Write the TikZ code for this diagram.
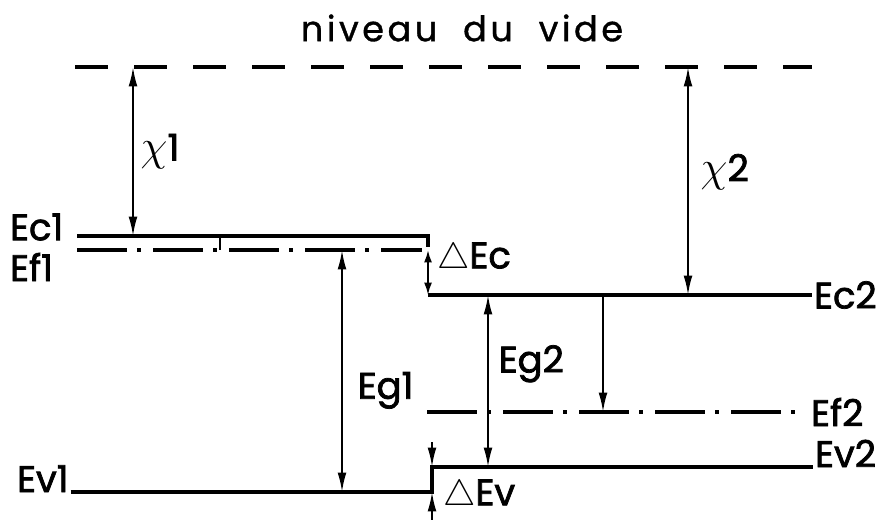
\documentclass[tikz,border=0pt]{standalone}
\usepackage{fontspec}
\setmainfont{Poppins}
\newfontfamily\labfont[FakeBold=2]{Poppins}
\newfontfamily\titfont[FakeBold=1, LetterSpace=10]{Poppins}
\usetikzlibrary{arrows.meta, positioning}

\begin{document}
\begin{tikzpicture}[
  level/.style = {line width=2pt},
  fermi/.style = {line width=2pt, dash pattern=on 1.0cm off 0.2cm on 0.08cm off 0.24cm},
  vac/.style   = {line width=2pt, dash pattern=on 0.66cm off 0.52cm},
  gap/.style   = {{Latex[length=11pt,width=5pt]}-{Latex[length=11pt,width=5pt]}, line width=1.1pt},
  sgap/.style  = {{Latex[length=7pt,width=4.5pt]}-{Latex[length=7pt,width=4.5pt]}, line width=1.1pt},
  down/.style  = {-{Latex[length=11pt,width=5pt]}, line width=1.1pt},
  lab/.style   = {font=\labfont\fontsize{21}{21}\selectfont, inner sep=1pt},
]
  \useasboundingbox (0,0) rectangle (17.76,-10.4);

  % niveau du vide
  \node[font=\titfont\fontsize{20}{20}\selectfont] (vide) at (9.24,-0.56) {niveau\ \ du\ \ vide};
  \coordinate (v1) at (1.5,-1.34);
  \coordinate (v2) at (16.24,-1.34);
  \draw[vac] (v1) -- (v2);

  % materiau 1
  \node[lab, anchor=west] (Ec1) at (0.16,-4.54) {Ec1};
  \node[lab, anchor=west] (Ef1) at (0.16,-5.34) {Ef1};
  \node[lab, anchor=base west] (Ev1) at (0.3,-9.84) {Ev1};
  \coordinate (c1a) at (1.54,-4.72);
  \coordinate (c1b) at (8.56,-4.72);
  \coordinate (f1a) at (1.54,-5.0);
  \coordinate (f1b) at (8.44,-5.0);
  \coordinate (v1b) at (8.64,-9.84);

  % materiau 2
  \node[lab, anchor=west] (Ec2) at (16.24,-5.9) {Ec2};
  \node[lab, anchor=west] (Ef2) at (16.18,-8.24) {Ef2};
  \node[lab, anchor=base west] (Ev2) at (16.26,-9.34) {Ev2};
  \coordinate (c2a) at (8.56,-5.9);
  \coordinate (f2a) at (8.54,-8.24);
  \coordinate (f2b) at (15.92,-8.24);
  \coordinate (v2a) at (8.64,-9.34);

  \draw[level] (c1a) -- (c1b) -- ++(0,-0.22);
  \draw[fermi] (f1a) -- (f1b);
  \draw[level] (c2a) -- (Ec2.west);
  \draw[fermi] (f2a) -- (f2b);
  \draw[level] (Ev1.base east) -- (v1b) -- (v2a) -- (Ev2.base west);
  \coordinate (tk) at (4.4,-4.72);
  \draw[line width=1.1pt] (tk) -- (tk |- f1a);

  % affinites
  \coordinate (x1t) at (2.66,-1.34);
  \coordinate (x2t) at (13.76,-1.34);
  \draw[gap] (x1t) -- node[lab, right=0.1cm] (chi1) {{\fontsize{25}{25}\selectfont$\chi$}1} (x1t |- c1a);
  \draw[gap] (x2t) -- node[lab, right=0.2cm, pos=0.46] (chi2) {{\fontsize{25}{25}\selectfont$\chi$}2} (x2t |- c2a);

  % gaps
  \coordinate (g1) at (6.84,-5.0);
  \coordinate (g2) at (9.76,-5.9);
  \draw[gap] (g1) -- node[lab, right=0.26cm, pos=0.58] (Eg1) {Eg1} (g1 |- v1b);
  \draw[gap] (g2) -- node[lab, right=0.16cm, pos=0.4] (Eg2) {Eg2} (g2 |- v2a);

  % discontinuites
  \draw[sgap] (c1b |- f1a) -- (c2a);
  \node[lab, anchor=west] (dEc) at (8.7,-5.18) {$\triangle$Ec};
  \coordinate[above=0.5cm of v2a] (dv1);
  \coordinate[below=0.56cm of v1b] (dv2);
  \draw[down] (dv1) -- (v2a);
  \draw[down] (dv2) -- (v1b);
  \node[lab, anchor=west] (dEv) at (8.82,-9.92) {$\triangle$Ev};

  \coordinate (ff) at (12.06,-5.9);
  \draw[down] (ff) -- (ff |- f2a);
\end{tikzpicture}
\end{document}
